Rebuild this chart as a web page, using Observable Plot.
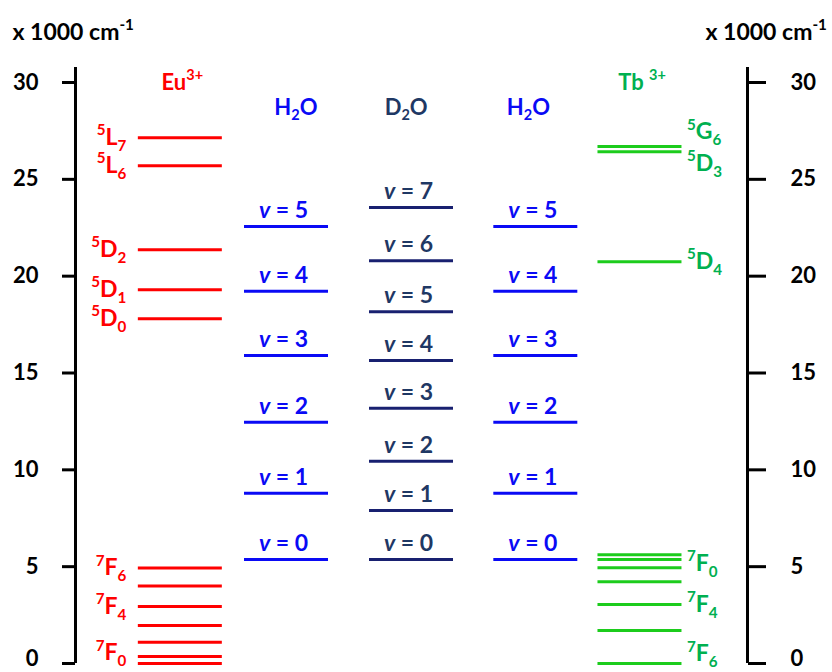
<!DOCTYPE html>
<html>
<head>
<meta charset="utf-8">
<script src="https://cdn.jsdelivr.net/npm/d3@7"></script>
<script src="https://cdn.jsdelivr.net/npm/@observablehq/plot@0.6"></script>
<style>
  html, body { margin: 0; padding: 0; background: #fff; }
  #chart svg { font-family: Lato, "Open Sans", sans-serif; font-weight: bold; }
</style>
</head>
<body>
<div id="chart"></div>
<script>
// ---------- data (x 1000 cm^-1) ----------
const yTicks = [0, 5, 10, 15, 20, 25, 30];
const columns = ["Eu", "H2O_L", "D2O", "H2O_R", "Tb"];
const columnTitles = ["Eu^{3+}", "H_{2}O", "D_{2}O", "H_{2}O", "Tb ^{3+}"];
const axisTitle = "x 1000 cm^{-1}";

const euLevels = [27.15, 25.7, 21.37, 19.3, 17.8, 4.93, 4.0, 2.94, 1.96, 1.1, 0.36, 0];
const euLabels = ["^{5}L_{7}", "^{5}L_{6}", "^{5}D_{2}", "^{5}D_{1}", "^{5}D_{0}",
                  "^{7}F_{6}", "", "^{7}F_{4}", "", "", "", "^{7}F_{0}"];

const h2oLevels = [5.37, 8.79, 12.46, 15.9, 19.22, 22.56];
const h2oLabels = ["*v* = 0", "*v* = 1", "*v* = 2", "*v* = 3", "*v* = 4", "*v* = 5"];

const d2oLevels = [5.37, 7.9, 10.44, 13.18, 15.64, 18.16, 20.8, 23.54];
const d2oLabels = ["*v* = 0", "*v* = 1", "*v* = 2", "*v* = 3", "*v* = 4", "*v* = 5", "*v* = 6", "*v* = 7"];

const tbLevels = [26.69, 26.43, 20.75, 5.61, 5.37, 4.94, 4.22, 3.05, 1.70, 0];
const tbLabels = ["^{5}G_{6}", "^{5}D_{3}", "^{5}D_{4}", "^{7}F_{0}", "", "", "",
                  "^{7}F_{4}", "", "^{7}F_{6}"];

// ---------- layout & style ----------
const colX = {Eu: 15.6, H2O_L: 31.4, D2O: 50, H2O_R: 68.5, Tb: 84.0};
const titleNudge = {Eu: 0.3, H2O_L: 1.4, D2O: -0.8, H2O_R: -1.1, Tb: 0.3};
const halfW = 6.25;
const lineColor = {Eu: "#ff0000", H2O_L: "#0a0af5", D2O: "#182070", H2O_R: "#0a0af5", Tb: "#1ccc1c"};
const textColor = {Eu: "#ff0000", H2O_L: "#0a0af5", D2O: "#1f3864", H2O_R: "#0a0af5", Tb: "#00b050"};
const labelNudge = {"Tb^{5}G_{6}": 0.75, "Tb^{5}D_{3}": -0.6, "Tb^{7}F_{0}": -0.45,
                    "Tb^{7}F_{6}": 0.5, "Eu^{7}F_{0}": 0.55};
const tickLabelY = d => d === 0 ? 0.25 : d;   // keep the bottom label inside the picture

const rows = [
  ...euLevels.map((v, i) => ({col: "Eu", value: v, label: euLabels[i]})),
  ...h2oLevels.map((v, i) => ({col: "H2O_L", value: v, label: h2oLabels[i]})),
  ...d2oLevels.map((v, i) => ({col: "D2O", value: v, label: d2oLabels[i]})),
  ...h2oLevels.map((v, i) => ({col: "H2O_R", value: v, label: h2oLabels[i]})),
  ...tbLevels.map((v, i) => ({col: "Tb", value: v, label: tbLabels[i]}))
];
const titles = columns.map((c, i) => ({col: c, title: columnTitles[i]}));
const nudgeY = d => d.value + (labelNudge[d.col + d.label] || 0);

const fs = 22;

const plot = Plot.plot({
  width: 832,
  height: 672,
  marginTop: 82,
  marginBottom: 9,
  marginLeft: 75,
  marginRight: 85,
  x: {domain: [0, 100], axis: null},
  y: {domain: [0, 30], axis: null},
  style: {fontFamily: "Lato, 'Open Sans', sans-serif", fontWeight: "bold", fontSize: fs + "px", overflow: "visible"},
  marks: [
    // axis spines and ticks
    Plot.ruleX([0, 100], {y1: 0, y2: 30.78, stroke: "#000", strokeWidth: 3}),
    Plot.axisY(yTicks, {anchor: "left", tickSize: 13, strokeWidth: 3, label: null, tickFormat: () => ""}),
    Plot.axisY(yTicks, {anchor: "right", tickSize: 18, strokeWidth: 3, label: null, tickFormat: () => ""}),
    // tick labels
    Plot.text(yTicks, {y: tickLabelY, frameAnchor: "left", text: d => String(d), textAnchor: "end", dx: -37, fill: "#000", fontSize: fs, fontWeight: "bold"}),
    Plot.text(yTicks, {y: tickLabelY, frameAnchor: "right", text: d => String(d), textAnchor: "start", dx: 43, fill: "#000", fontSize: fs, fontWeight: "bold"}),
    // energy levels
    Plot.ruleY(rows, {
      y: "value",
      x1: d => colX[d.col] - halfW,
      x2: d => colX[d.col] + halfW,
      stroke: d => lineColor[d.col],
      strokeWidth: 3
    }),
    // Eu labels (left of lines)
    Plot.text(rows.filter(d => d.col === "Eu" && d.label), {
      x: d => colX[d.col] - halfW, y: nudgeY, text: "label",
      textAnchor: "end", dx: -12, fill: textColor.Eu, fontSize: 23, fontWeight: "bold"
    }),
    // Tb labels (right of lines)
    Plot.text(rows.filter(d => d.col === "Tb" && d.label), {
      x: d => colX[d.col] + halfW, y: nudgeY, text: "label",
      textAnchor: "start", dx: 5, fill: textColor.Tb, fontSize: 23, fontWeight: "bold"
    }),
    // vibrational labels
    Plot.text(rows.filter(d => d.col !== "Eu" && d.col !== "Tb"), {
      x: d => colX[d.col], y: "value", text: "label",
      textAnchor: "middle", dy: -16, dx: -3, fill: d => textColor[d.col], fontSize: 23, fontWeight: "bold"
    }),
    // column titles
    Plot.text(titles.filter(d => d.col === "Eu" || d.col === "Tb"), {
      x: d => colX[d.col] + titleNudge[d.col], frameAnchor: "top", lineAnchor: "middle", text: "title",
      fill: d => textColor[d.col], fontSize: 22, fontWeight: "bold"
    }),
    Plot.text(titles.filter(d => d.col !== "Eu" && d.col !== "Tb"), {
      x: d => colX[d.col] + titleNudge[d.col], frameAnchor: "top", lineAnchor: "middle", text: "title", dy: 25,
      fill: d => textColor[d.col], fontSize: 22, fontWeight: "bold"
    }),
    // unit titles
    Plot.text([axisTitle], {frameAnchor: "top-left", lineAnchor: "middle", text: d => d, textAnchor: "start", dx: -63, dy: -50, fill: "#000", fontSize: 23, fontWeight: "bold"}),
    Plot.text([axisTitle], {frameAnchor: "top-right", lineAnchor: "middle", text: d => d, textAnchor: "start", dx: -42, dy: -50, fill: "#000", fontSize: 23, fontWeight: "bold"})
  ]
});

document.getElementById("chart").appendChild(plot);

// convert ^{..} superscripts, _{..} subscripts and *..* italics into tspans
d3.select(plot).selectAll("text").each(function() {
  const s = this.textContent;
  if (!/[\^_*]/.test(s)) return;
  const size = parseFloat(getComputedStyle(this).fontSize) || fs;
  const re = /\^\{([^}]*)\}|_\{([^}]*)\}|\*([^*]*)\*|([^\^_*]+)/g;
  this.textContent = "";
  let shift = 0;
  for (const m of s.matchAll(re)) {
    let t, target = 0, small = false, italic = false;
    if (m[1] != null) { t = m[1]; target = -0.42 * size; small = true; }
    else if (m[2] != null) { t = m[2]; target = 0.26 * size; small = true; }
    else if (m[3] != null) { t = m[3]; italic = true; }
    else { t = m[4]; }
    const ts = d3.select(this).append("tspan").text(t).attr("dy", (target - shift).toFixed(2));
    shift = target;
    if (small) ts.attr("font-size", (0.66 * size).toFixed(1));
    if (italic) ts.attr("font-style", "italic");
  }
});
</script>
</body>
</html>
